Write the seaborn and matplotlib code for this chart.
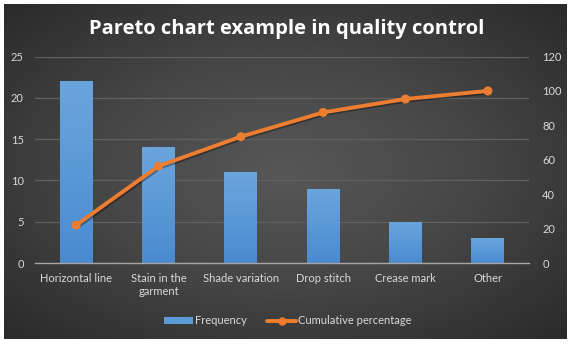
import numpy as np
import pandas as pd
import matplotlib
matplotlib.use("Agg")
import matplotlib.pyplot as plt
import matplotlib.patheffects as pe
from matplotlib.colors import LinearSegmentedColormap
from matplotlib.patches import Patch
from matplotlib.lines import Line2D
import seaborn as sns

# ---- data ----
categories = ["Horizontal line", "Stain in the\ngarment", "Shade variation",
              "Drop stitch", "Crease mark", "Other"]
frequency = [22, 14, 11, 9, 5, 3]
cumulative_pct = [22, 56.3, 73.4, 87.5, 95.3, 100]
left_ticks = [0, 5, 10, 15, 20, 25]
right_ticks = [0, 20, 40, 60, 80, 100, 120]
title = "Pareto chart example in quality control"

sns.set_theme(style="dark")
plt.rcParams["font.family"] = ["Lato", "DejaVu Sans"]

W, H = 571, 344
fig = plt.figure(figsize=(W / 100, H / 100), dpi=100, facecolor="white")

# background with radial gradient
bg = fig.add_axes([4 / W, 5 / H, 563 / W, 335 / H])
yy, xx = np.mgrid[-1:1:300j, -1:1:500j]
r = np.sqrt(xx ** 2 + yy ** 2) / np.sqrt(2)
bg_cmap = LinearSegmentedColormap.from_list("bg", ["#575757", "#454545", "#2a2a2a"])
bg.imshow(r, cmap=bg_cmap, aspect="auto", extent=[0, 1, 0, 1], vmin=0, vmax=1)
bg.set_axis_off()

# main axes
ax = fig.add_axes([35 / W, 81 / H, 494 / W, 206.5 / H])
ax.set_facecolor("none")
df = pd.DataFrame({"category": categories, "frequency": frequency})
sns.barplot(data=df, x="category", y="frequency", ax=ax, width=0.4,
            color="#5b9bd5", saturation=1, zorder=3, edgecolor="none", linewidth=0)

# gradient fill for bars (lighter at the top)
grad = np.linspace(0, 1, 100).reshape(-1, 1)
bar_cmap = LinearSegmentedColormap.from_list("bar", ["#6ba5dd", "#4a8bd0"])
for p in list(ax.patches):
    x0, y0 = p.get_x(), p.get_y()
    w, h = p.get_width(), p.get_height()
    im = ax.imshow(grad, extent=[x0, x0 + w, y0, y0 + h], cmap=bar_cmap,
                   aspect="auto", zorder=3.5, origin="upper")
    im.set_clip_path(p)

ax.set_xlim(-0.5, len(categories) - 0.5)
ax.set_ylim(0, 25)
ax.set_yticks(left_ticks)
ax.set_xlabel("")
ax.set_ylabel("")
ax.grid(axis="y", color="#606060", linewidth=0.9, zorder=0)
ax.grid(axis="x", visible=False)
for s in ["left", "right", "top"]:
    ax.spines[s].set_visible(False)
ax.spines["bottom"].set_color("#a6a6a6")
ax.spines["bottom"].set_linewidth(1)
ax.spines["bottom"].set_zorder(4)
ax.tick_params(axis="y", length=0, pad=8, labelsize=8, labelcolor="#d9d9d9")
ax.tick_params(axis="x", length=0, pad=7, labelsize=8, labelcolor="#d9d9d9")
for lbl in ax.get_xticklabels():
    lbl.set_linespacing(1.3)

# cumulative line on secondary axis
ax2 = ax.twinx()
ax2.set_facecolor("none")
positions = np.arange(len(categories))
sns.lineplot(x=positions, y=cumulative_pct, ax=ax2, color="#ed7d31",
             linewidth=2.8, marker="o", markersize=6.5, markeredgewidth=0,
             zorder=5,
             path_effects=[pe.SimpleLineShadow(offset=(1, -1), alpha=0.35, shadow_color="black"),
                           pe.Normal()])
ax2.set_ylim(0, 120)
ax2.set_yticks(right_ticks)
ax2.set_xlim(-0.5, len(categories) - 0.5)
ax2.grid(False)
for s in ax2.spines.values():
    s.set_visible(False)
ax2.tick_params(axis="y", length=0, pad=9.5, labelsize=8, labelcolor="#d9d9d9")
ax2.set_ylabel("")

# title
fig.text(287 / W, 1 - 29 / H, title, ha="center", va="center",
         color="white", fontsize=14.5, fontweight="bold",
         family=["Open Sans", "DejaVu Sans"])

# legend
handles = [Patch(facecolor="#5b9bd5", edgecolor="none", label="Frequency"),
           Line2D([0], [0], color="#ed7d31", linewidth=2.8, marker="o",
                  markersize=5, label="Cumulative percentage")]
leg = fig.legend(handles=handles, loc="center", bbox_to_anchor=(288 / W, 23 / H),
                 ncol=2, frameon=False, fontsize=8, labelcolor="#d9d9d9",
                 handlelength=2.6, handletextpad=0.2, columnspacing=1.8,
                 handleheight=0.6)

fig.savefig("out.png", dpi=100, facecolor="white")
